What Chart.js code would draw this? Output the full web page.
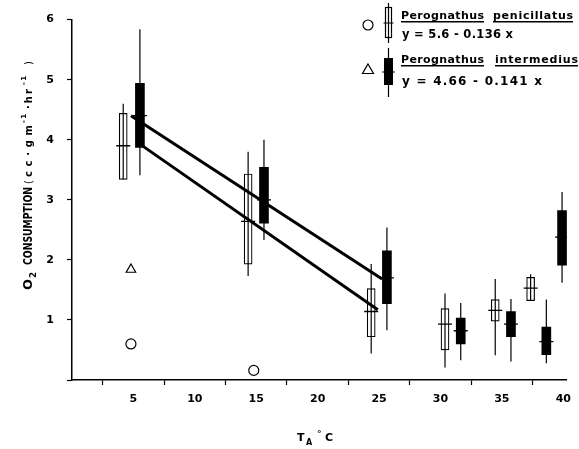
<!DOCTYPE html>
<html>
<head>
<meta charset="utf-8">
<script src="https://cdn.jsdelivr.net/npm/chart.js@4.4.1/dist/chart.umd.min.js"></script>
<style>
    html, body { margin: 0; padding: 0; background: #fff; }
    canvas { display: block; }
</style>
</head>
<body>
<canvas id="chart" width="579" height="449"></canvas>
<script>
// P. penicillatus (open boxes)
const penX    = [4.17, 14.34, 24.36, 30.37, 34.46, 37.34];
const penLow  = [3.34, 1.73, 0.44, 0.21, 0.41, 1.32];
const penQ1   = [3.34, 1.93, 0.72, 0.50, 0.98, 1.32];
const penMean = [3.90, 2.64, 1.14, 0.93, 1.16, 1.53];
const penQ3   = [4.44, 3.43, 1.52, 1.19, 1.34, 1.71];
const penHigh = [4.60, 3.80, 1.93, 1.44, 1.68, 1.76];

// P. intermedius (filled boxes)
const intX    = [5.53, 15.63, 25.64, 31.65, 35.74, 38.62, 39.90];
const intLow  = [3.41, 2.33, 0.83, 0.33, 0.31, 0.28, 1.62];
const intQ1   = [3.87, 2.61, 1.27, 0.60, 0.72, 0.42, 1.91];
const intMean = [4.40, 3.00, 1.70, 0.82, 0.93, 0.64, 2.38];
const intQ3   = [4.94, 3.54, 2.15, 1.03, 1.14, 0.88, 2.82];
const intHigh = [5.84, 4.00, 2.54, 1.28, 1.35, 1.34, 3.13];

// regression lines
const upperLineX = [4.8, 25.25];
const upperLineY = [4.40, 1.68];
const lowerLineX = [5.3, 24.9];
const lowerLineY = [3.96, 1.17];

// single points
const circleX = [4.8, 14.8];
const circleY = [0.60, 0.16];
const triangleX = [4.8];
const triangleY = [1.84];

const FONT = '"DejaVu Sans", sans-serif';

const boxes = (xs, lo, hi) => xs.map((x, i) => ({ x, y: [lo[i], hi[i]] }));
const points = (xs, ys) => xs.map((x, i) => ({ x, y: ys[i] }));
const whiskers = (xs, lo, hi) => xs.flatMap((x, i) => [{ x, y: lo[i] }, { x, y: hi[i] }, { x, y: null }]);

// squeeze text to a width
function fitText(ctx, text, x, y, w) {
    const w0 = ctx.measureText(text).width;
    ctx.save();
    ctx.translate(x, y);
    ctx.scale(w / w0, 1);
    ctx.fillText(text, 0, 0);
    ctx.restore();
}

// spread text with letter spacing to a width
function spaceText(ctx, text, x, y, w) {
    ctx.letterSpacing = '0px';
    const w0 = ctx.measureText(text).width;
    if (w0 >= w || text.length < 2) {
        fitText(ctx, text, x, y, w);
        return;
    }
    ctx.letterSpacing = ((w - w0) / (text.length - 1)) + 'px';
    ctx.fillText(text, x, y);
    ctx.letterSpacing = '0px';
}

const annotations = {
    id: 'annotations',
    afterDraw(chart) {
        const ctx = chart.ctx;
        ctx.save();
        ctx.fillStyle = '#000';
        ctx.strokeStyle = '#000';
        ctx.textBaseline = 'alphabetic';
        ctx.textAlign = 'left';

        // y title, rotated
        ctx.save();
        ctx.translate(32, 290);
        ctx.rotate(-Math.PI / 2);
        ctx.font = 'bold 12px ' + FONT;
        fitText(ctx, 'O', 0, 0, 11);
        ctx.font = 'bold 8px ' + FONT;
        fitText(ctx, '2', 12, 4, 6);
        ctx.font = 'bold 11.5px ' + FONT;
        fitText(ctx, 'CONSUMPTION', 25, 0, 78);
        ctx.font = '10px ' + FONT;
        ctx.fillText('(', 106, 0);
        ctx.font = 'bold 10px ' + FONT;
        spaceText(ctx, 'cc·gm', 113, 0, 52);
        ctx.font = 'bold 7px ' + FONT;
        spaceText(ctx, '-1', 167, -6, 9);
        ctx.font = 'bold 10px ' + FONT;
        spaceText(ctx, '·hr', 181, 0, 20);
        ctx.font = 'bold 7px ' + FONT;
        spaceText(ctx, '-1', 205, -6, 9);
        ctx.font = '10px ' + FONT;
        ctx.fillText(')', 225, 0);
        ctx.restore();

        // x title
        ctx.font = 'bold 11px ' + FONT;
        ctx.fillText('T', 297, 441);
        ctx.font = 'bold 8px ' + FONT;
        ctx.fillText('A', 306, 445);
        ctx.font = 'bold 9px ' + FONT;
        ctx.fillText('°', 317, 437);
        ctx.font = 'bold 11px ' + FONT;
        ctx.fillText('C', 325, 441);

        // legend symbols
        ctx.lineWidth = 1.2;
        ctx.beginPath();
        ctx.arc(368, 25, 5, 0, Math.PI * 2);
        ctx.stroke();
        ctx.beginPath();
        ctx.moveTo(368, 64); ctx.lineTo(373.5, 73.5); ctx.lineTo(362.5, 73.5); ctx.closePath();
        ctx.stroke();

        // open glyph
        ctx.beginPath();
        ctx.moveTo(388.5, 3); ctx.lineTo(388.5, 43);
        ctx.moveTo(383.5, 23); ctx.lineTo(393.5, 23);
        ctx.stroke();
        ctx.strokeRect(385.5, 7.5, 6, 30);
        // filled glyph
        ctx.beginPath();
        ctx.moveTo(388.5, 48); ctx.lineTo(388.5, 97);
        ctx.moveTo(382, 72); ctx.lineTo(395, 72);
        ctx.stroke();
        ctx.fillRect(384, 58, 9, 27);

        // legend text
        ctx.font = 'bold 11px ' + FONT;
        spaceText(ctx, 'Perognathus', 401, 19, 83);
        spaceText(ctx, 'penicillatus', 493, 19, 80);
        ctx.fillRect(401, 21, 83, 1.5);
        ctx.fillRect(493, 21, 80, 1.5);
        ctx.font = 'bold 11.5px ' + FONT;
        spaceText(ctx, 'y = 5.6 - 0.136 x', 402, 38, 111);
        ctx.font = 'bold 11px ' + FONT;
        spaceText(ctx, 'Perognathus', 401, 63, 83);
        spaceText(ctx, 'intermedius', 495, 63, 83);
        ctx.fillRect(401, 65, 83, 1.5);
        ctx.fillRect(495, 65, 83, 1.5);
        ctx.font = 'bold 12px ' + FONT;
        spaceText(ctx, 'y = 4.66 - 0.141 x', 402, 85, 140);

        ctx.restore();
    }
};

new Chart(document.getElementById('chart'), {
    type: 'bar',
    data: {
        datasets: [
            {
                type: 'scatter', data: points(circleX, circleY), order: 0,
                pointStyle: 'circle', pointRadius: 5, borderWidth: 1.2,
                borderColor: '#000', backgroundColor: '#fff'
            },
            {
                type: 'scatter', data: points(triangleX, triangleY), order: 0,
                pointStyle: 'triangle', pointRadius: 5.5, borderWidth: 1.2,
                borderColor: '#000', backgroundColor: '#fff'
            },
            {
                type: 'line', data: points(upperLineX, upperLineY), order: 1,
                borderColor: '#000', borderWidth: 3, pointRadius: 0
            },
            {
                type: 'line', data: points(lowerLineX, lowerLineY), order: 1,
                borderColor: '#000', borderWidth: 3, pointRadius: 0
            },
            {
                type: 'scatter', data: points(penX, penMean), order: 2,
                pointStyle: 'line', pointRadius: 7, borderWidth: 1.3, borderColor: '#000'
            },
            {
                type: 'scatter', data: points(intX, intMean), order: 2,
                pointStyle: 'line', pointRadius: 7, borderWidth: 1.3, borderColor: '#000'
            },
            {
                type: 'bar', data: boxes(intX, intQ1, intQ3), order: 3,
                barThickness: 9, grouped: false, borderSkipped: false,
                backgroundColor: '#000', borderColor: '#000', borderWidth: 0
            },
            {
                type: 'line', data: whiskers(penX, penLow, penHigh), order: 4,
                borderColor: '#000', borderWidth: 1.2, pointRadius: 0, spanGaps: false
            },
            {
                type: 'line', data: whiskers(intX, intLow, intHigh), order: 4,
                borderColor: '#000', borderWidth: 1.2, pointRadius: 0, spanGaps: false
            },
            {
                type: 'bar', data: boxes(penX, penQ1, penQ3), order: 5,
                barThickness: 8, grouped: false, borderSkipped: false,
                backgroundColor: '#fff', borderColor: '#000', borderWidth: 1.2
            }
        ]
    },
    options: {
        responsive: false,
        animation: false,
        events: [],
        layout: { padding: { top: 12, right: 4, left: 0, bottom: 0 } },
        plugins: { legend: { display: false }, tooltip: { enabled: false } },
        scales: {
            x: {
                type: 'linear', min: 0, max: 40.3, offset: false,
                afterFit: s => { s.height = 69; },
                border: { color: '#000', width: 1.5 },
                grid: { drawOnChartArea: false, color: '#000', tickLength: 5, tickWidth: 1.2 },
                ticks: {
                    stepSize: 5, includeBounds: false, padding: 8, color: '#000',
                    font: { family: FONT, size: 11, weight: 'bold' },
                    maxRotation: 0,
                    callback: v => (v === 0 ? '' : v)
                }
            },
            y: {
                min: 0, max: 6,
                afterFit: s => { s.width = 72; },
                border: { color: '#000', width: 1.5 },
                grid: { drawOnChartArea: false, color: '#000', tickLength: 5, tickWidth: 1.2 },
                ticks: {
                    stepSize: 1, padding: 13, color: '#000',
                    font: { family: FONT, size: 11, weight: 'bold' },
                    callback: v => (v === 0 ? '' : v)
                }
            }
        }
    },
    plugins: [annotations]
});
</script>
</body>
</html>
